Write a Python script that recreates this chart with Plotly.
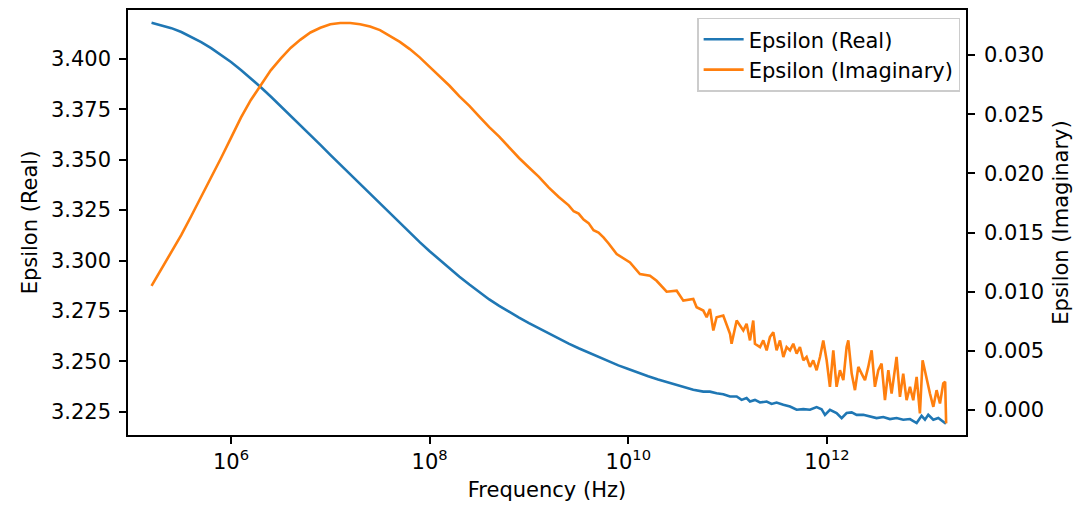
import plotly.graph_objects as go

# log10(frequency / Hz) and values
real_logf = [5.2, 5.3, 5.4, 5.5, 5.6, 5.7, 5.8, 5.9, 6.0, 6.1, 6.2, 6.3, 6.4, 6.5, 6.6,
             6.7, 6.8, 6.9, 7.0, 7.1, 7.2, 7.3, 7.4, 7.5, 7.6, 7.7, 7.8, 7.9, 8.0, 8.1,
             8.2, 8.3, 8.4, 8.5, 8.6, 8.7, 8.8, 8.9, 9.0, 9.1, 9.2, 9.3, 9.4, 9.5, 9.6,
             9.7, 9.8, 9.9, 10.0, 10.1, 10.2, 10.3, 10.4,
             10.487, 10.554, 10.654, 10.755, 10.822, 10.889, 10.956, 11.024, 11.091,
             11.141, 11.191, 11.225, 11.275, 11.326, 11.393, 11.443, 11.493, 11.561,
             11.628, 11.695, 11.762, 11.829, 11.896, 11.946, 11.980, 12.030, 12.097,
             12.148, 12.198, 12.249, 12.299, 12.366, 12.433, 12.500, 12.567, 12.634,
             12.701, 12.768, 12.836, 12.903, 12.953, 12.987, 13.020, 13.071, 13.121,
             13.171, 13.198]
real_vals = [3.4179, 3.4167, 3.4152, 3.4133, 3.4110, 3.4083, 3.4053, 3.4020, 3.3984,
             3.3945, 3.3903, 3.3859, 3.3813, 3.3766, 3.3718, 3.3670, 3.3621, 3.3573,
             3.3524, 3.3476, 3.3427, 3.3379, 3.3330, 3.3281, 3.3233, 3.3184, 3.3137,
             3.3091, 3.3046, 3.3003, 3.2961, 3.2920, 3.2881, 3.2843, 3.2807, 3.2775,
             3.2745, 3.2717, 3.2690, 3.2664, 3.2638, 3.2612, 3.2588, 3.2565, 3.2544,
             3.2521, 3.2499, 3.2480, 3.2462, 3.2443, 3.2426, 3.2410, 3.2395,
             3.2383, 3.2375, 3.2359, 3.2350, 3.2350, 3.2342, 3.2337, 3.2326, 3.2326,
             3.2309, 3.2318, 3.2301, 3.2309, 3.2296, 3.2301, 3.2289, 3.2296, 3.2285,
             3.2276, 3.2260, 3.2263, 3.2260, 3.2273, 3.2263, 3.2235, 3.2260, 3.2244,
             3.2219, 3.2244, 3.2247, 3.2235, 3.2235, 3.2227, 3.2219, 3.2224, 3.2214,
             3.2219, 3.2211, 3.2214, 3.2194, 3.2230, 3.2211, 3.2235, 3.2211, 3.2219,
             3.2202, 3.2191]

imag_logf = [5.2, 5.3, 5.4, 5.5, 5.6, 5.7, 5.8, 5.9, 6.0, 6.1, 6.2, 6.3, 6.4, 6.5, 6.6,
             6.7, 6.8, 6.9, 7.0, 7.1, 7.2, 7.3, 7.4, 7.5, 7.6, 7.7, 7.8, 7.9, 8.0, 8.1,
             8.2, 8.3, 8.4, 8.5, 8.6, 8.7, 8.8, 8.9, 9.0, 9.1, 9.2, 9.3, 9.4, 9.45, 9.5,
             9.55, 9.6, 9.65, 9.7, 9.75, 9.8, 9.85,
             9.883, 10.017, 10.117, 10.218, 10.285, 10.386, 10.487, 10.554, 10.654,
             10.688, 10.755, 10.789, 10.822, 10.856, 10.889, 10.956, 11.024, 11.040,
             11.091, 11.158, 11.191, 11.225, 11.258, 11.275, 11.326, 11.359, 11.393,
             11.426, 11.460, 11.493, 11.527, 11.561, 11.594, 11.628, 11.661, 11.695,
             11.728, 11.762, 11.795, 11.829, 11.862, 11.896, 11.930, 11.963, 11.997,
             12.030, 12.064, 12.097, 12.131, 12.165, 12.198, 12.215, 12.249, 12.282,
             12.316, 12.349, 12.383, 12.416, 12.450, 12.483, 12.517, 12.550, 12.584,
             12.618, 12.651, 12.701, 12.735, 12.768, 12.802, 12.836, 12.869, 12.903,
             12.936, 12.963, 12.997, 13.037, 13.071, 13.104, 13.138, 13.171, 13.190,
             13.200]
imag_vals = [0.0105, 0.0119, 0.0133, 0.0148, 0.0164, 0.0180, 0.0196, 0.0213, 0.0230,
             0.0247, 0.0262, 0.0275, 0.0287, 0.0297, 0.0306, 0.0313, 0.0319, 0.0323,
             0.0326, 0.0327, 0.0327, 0.0326, 0.0324, 0.0321, 0.0316, 0.0311, 0.0305,
             0.0298, 0.0290, 0.0282, 0.0274, 0.0265, 0.0257, 0.0248, 0.0239, 0.0231,
             0.0222, 0.0213, 0.0205, 0.0197, 0.0188, 0.0180, 0.0173, 0.0168, 0.0166,
             0.0161, 0.0158, 0.0152, 0.0150, 0.0146, 0.0141, 0.0136,
             0.01318, 0.01248, 0.01150, 0.01136, 0.01093, 0.01000, 0.01009, 0.00925,
             0.00939, 0.00869, 0.00841, 0.00785, 0.00855, 0.00673, 0.00785, 0.00799,
             0.00645, 0.00561, 0.00757, 0.00673, 0.00729, 0.00589, 0.00757, 0.00561,
             0.00533, 0.00589, 0.00505, 0.00617, 0.00659, 0.00505, 0.00589, 0.00449,
             0.00533, 0.00505, 0.00561, 0.00477, 0.00533, 0.00421, 0.00449, 0.00365,
             0.00421, 0.00337, 0.00449, 0.00589, 0.00421, 0.00197, 0.00505, 0.00197,
             0.00337, 0.00253, 0.00533, 0.00589, 0.00309, 0.00169, 0.00365, 0.00309,
             0.00253, 0.00365, 0.00505, 0.00197, 0.00337, 0.00393, 0.00084, 0.00337,
             0.00140, 0.00449, 0.00112, 0.00309, 0.00084, 0.00197, 0.00084, 0.00281,
             -0.00028, 0.00421, 0.00281, 0.00140, 0.00028, 0.00169, 0.00056, 0.00225,
             0.00239, -0.00112]

x_tick_vals = [1e6, 1e8, 1e10, 1e12]
x_tick_text = ["10<sup>6</sup>", "10<sup>8</sup>", "10<sup>10</sup>", "10<sup>12</sup>"]
y1_ticks = [3.225, 3.250, 3.275, 3.300, 3.325, 3.350, 3.375, 3.400]
y2_ticks = [0.000, 0.005, 0.010, 0.015, 0.020, 0.025, 0.030]

real_freq = [10 ** v for v in real_logf]
imag_freq = [10 ** v for v in imag_logf]

FONT = "DejaVu Sans"
FS = 21
fig = go.Figure()
fig.add_trace(go.Scatter(x=real_freq, y=real_vals, mode="lines", name="Epsilon (Real)",
                         line=dict(color="#1f77b4", width=2.6), yaxis="y"))
fig.add_trace(go.Scatter(x=imag_freq, y=imag_vals, mode="lines", name="Epsilon (Imaginary)",
                         line=dict(color="#ff7f0e", width=2.6), yaxis="y2"))

axis_common = dict(showgrid=False, zeroline=False, showline=True, linecolor="black",
                   linewidth=1.6, ticks="outside", ticklen=7, tickwidth=1.6,
                   tickcolor="black", tickfont=dict(family=FONT, size=FS, color="black"))

# the page adds an 8px body margin, so the figure is offset by (8, 8)
fig.update_layout(
    width=1081, height=499,
    margin=dict(l=120, r=123, t=0, b=72),
    paper_bgcolor="white", plot_bgcolor="white",
    font=dict(family=FONT, size=FS, color="black"),
    showlegend=True,
    legend=dict(x=0.993, y=0.982, xanchor="right", yanchor="top", itemwidth=40,
                bgcolor="rgba(255,255,255,0.9)", bordercolor="#cccccc", borderwidth=1.5,
                font=dict(family=FONT, size=FS, color="black"), tracegroupgap=0),
    xaxis=dict(type="log", range=[4.963, 13.40], tickvals=x_tick_vals, ticktext=x_tick_text,
               mirror=True, title=dict(text="Frequency (Hz)", standoff=9,
                                       font=dict(family=FONT, size=FS)),
               **axis_common),
    yaxis=dict(range=[3.2135, 3.4242], tickvals=y1_ticks, tickformat=".3f",
               ticklabelstandoff=4,
               title=dict(text="Epsilon (Real)", standoff=8, font=dict(family=FONT, size=FS)),
               **axis_common),
    yaxis2=dict(range=[-0.0021, 0.0338], tickvals=y2_ticks, tickformat=".3f",
                overlaying="y", side="right", ticklabelstandoff=5,
                title=dict(text="Epsilon (Imaginary)", standoff=10,
                           font=dict(family=FONT, size=FS)),
                **axis_common),
)

fig.write_html("out.html")
